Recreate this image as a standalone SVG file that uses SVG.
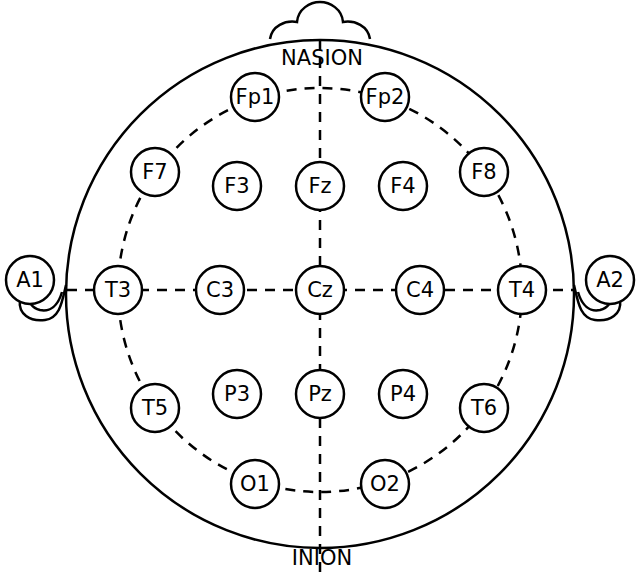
<svg xmlns="http://www.w3.org/2000/svg" width="640" height="572" viewBox="0 0 640 572">
<style>
.l{fill:none;stroke:#000;stroke-width:2.5}
.d{fill:none;stroke:#000;stroke-width:2.5;stroke-dasharray:10,8}
.e circle{fill:#fff;stroke:#000;stroke-width:2.5}
text{font-family:"DejaVu Sans",sans-serif;font-size:21px;text-anchor:middle;dominant-baseline:central}
</style>
<rect width="640" height="572" fill="#fff"/>
<g id="head">
<path class="l" d="M270,39 C272,26 285,20 297,22 C298,9 310,2 320,2 C330,2 342,9 343,22 C355,20 368,26 370,39"/>
<path class="l" d="M66,285 C62,302 60,318 45,320 C30,322 18,314 20,300"/>
<path class="l" d="M62,292 C58,306 50,312 40,310 C32,308 28,302 30,296"/>
<path class="l" d="M574,285 C578,302 580,318 595,320 C610,322 622,314 620,300"/>
<path class="l" d="M578,292 C582,306 590,312 600,310 C608,308 612,302 610,296"/>
<circle class="l" cx="320" cy="294" r="254"/>
</g>
<g id="connectors">
<circle class="d" cx="320" cy="290" r="202"/>
<line class="d" x1="67" y1="290" x2="573" y2="290"/>
<line class="d" x1="320" y1="40" x2="320" y2="572"/>
</g>
<text x="322" y="58">NASION</text>
<text x="322" y="558">INION</text>
<g class="e">
<g id="Fp1"><circle cx="255" cy="97" r="24"/><text x="255" y="97">Fp1</text></g>
<g id="Fp2"><circle cx="385" cy="97" r="24"/><text x="385" y="97">Fp2</text></g>
<g id="F7"><circle cx="155" cy="172" r="24"/><text x="155" y="172">F7</text></g>
<g id="F3"><circle cx="237" cy="186" r="24"/><text x="237" y="186">F3</text></g>
<g id="Fz"><circle cx="320" cy="186" r="24"/><text x="320" y="186">Fz</text></g>
<g id="F4"><circle cx="403" cy="186" r="24"/><text x="403" y="186">F4</text></g>
<g id="F8"><circle cx="484" cy="172" r="24"/><text x="484" y="172">F8</text></g>
<g id="T3"><circle cx="118" cy="290" r="24"/><text x="118" y="290">T3</text></g>
<g id="C3"><circle cx="220" cy="290" r="24"/><text x="220" y="290">C3</text></g>
<g id="Cz"><circle cx="320" cy="290" r="24"/><text x="320" y="290">Cz</text></g>
<g id="C4"><circle cx="420" cy="290" r="24"/><text x="420" y="290">C4</text></g>
<g id="T4"><circle cx="522" cy="290" r="24"/><text x="522" y="290">T4</text></g>
<g id="T5"><circle cx="155" cy="408" r="24"/><text x="155" y="408">T5</text></g>
<g id="P3"><circle cx="237" cy="394" r="24"/><text x="237" y="394">P3</text></g>
<g id="Pz"><circle cx="320" cy="394" r="24"/><text x="320" y="394">Pz</text></g>
<g id="P4"><circle cx="403" cy="394" r="24"/><text x="403" y="394">P4</text></g>
<g id="T6"><circle cx="484" cy="408" r="24"/><text x="484" y="408">T6</text></g>
<g id="O1"><circle cx="255" cy="484" r="24"/><text x="255" y="484">O1</text></g>
<g id="O2"><circle cx="385" cy="484" r="24"/><text x="385" y="484">O2</text></g>
<g id="A1"><circle cx="30" cy="280" r="24"/><text x="30" y="280">A1</text></g>
<g id="A2"><circle cx="610" cy="280" r="24"/><text x="610" y="280">A2</text></g>
</g>
</svg>
